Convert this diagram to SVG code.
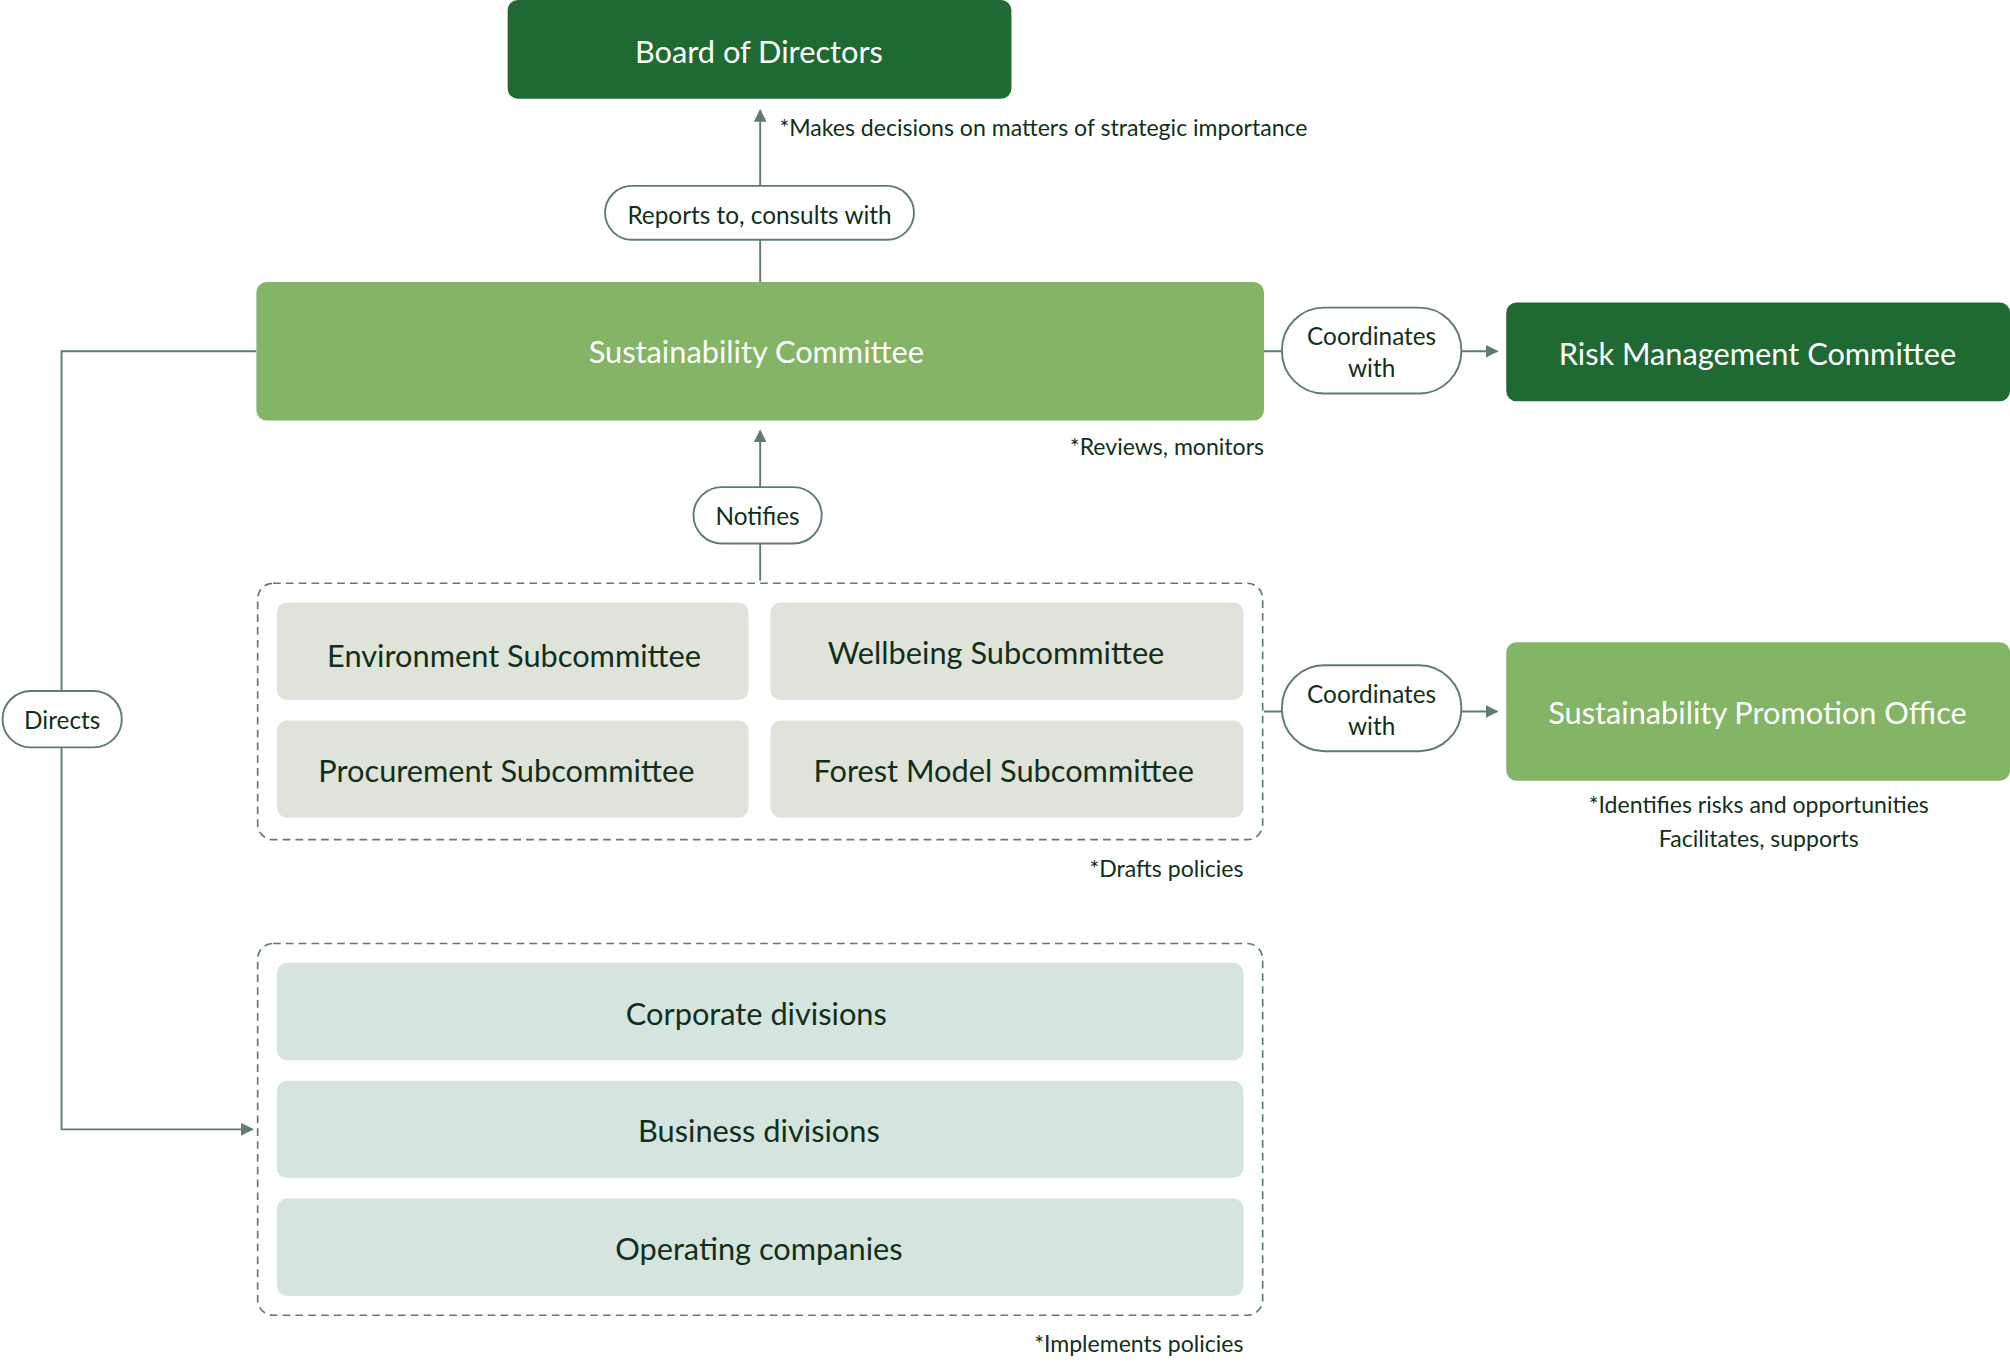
<svg xmlns="http://www.w3.org/2000/svg" width="2010" height="1362" viewBox="0 0 2010 1362">
<defs>
<style>
text{font-family:"Lato","Noto Sans",sans-serif;text-anchor:middle;dominant-baseline:central}
.w{fill:#fff;font-size:24px}
.d{fill:#10301a;font-size:24px}
.lbl{fill:#10301a;font-size:19px}
.note{fill:#10301a;font-size:18px;dominant-baseline:auto}
.pill{fill:#fff;stroke:#5f7d6d;stroke-width:1.5}
.ln{fill:none;stroke:#5f7d6d;stroke-width:1.5}
.dash{fill:none;stroke:#5f7d6d;stroke-width:1.3;stroke-dasharray:6 4}
.dk{fill:#1f6a33}.lt{fill:#84b466}.sub{fill:#dfe3d9}.div{fill:#d6e4df}
</style>
<marker id="ar" viewBox="0 0 10 10" refX="9" refY="5" markerWidth="10" markerHeight="10" markerUnits="userSpaceOnUse" orient="auto"><path d="M0,0L10,5L0,10z" fill="#5f7d6d"/></marker>
</defs>
<rect width="2010" height="1362" fill="#fff"/>
<g transform="scale(1.2819)">
<g id="connectors">
<path class="ln" d="M593,220V86" marker-end="url(#ar)"/>
<path class="ln" d="M986,274H1168" marker-end="url(#ar)"/>
<path class="ln" d="M593,453V336" marker-end="url(#ar)"/>
<path class="ln" d="M986,555H1168" marker-end="url(#ar)"/>
<path class="ln" d="M200,274H48V881H197" marker-end="url(#ar)"/>
<rect class="pill" x="472" y="145" width="241" height="42" rx="21"/><text class="lbl" x="592.5" y="167">Reports to, consults with</text>
<rect class="pill" x="1000" y="240" width="140" height="67" rx="33"/><text class="lbl" x="1070" y="262">Coordinates</text><text class="lbl" x="1070" y="287">with</text>
<rect class="pill" x="541" y="380" width="100" height="44" rx="22"/><text class="lbl" x="591" y="402">Notifies</text>
<rect class="pill" x="1000" y="519" width="140" height="67" rx="33"/><text class="lbl" x="1070" y="541">Coordinates</text><text class="lbl" x="1070" y="566">with</text>
<rect class="pill" x="2" y="539" width="93" height="44" rx="22"/><text class="lbl" x="48.5" y="561">Directs</text>
</g>
<g id="board"><rect class="dk" x="396" y="0" width="393" height="77" rx="8"/><text class="w" x="592" y="40">Board of Directors</text>
<text class="note" x="608" y="106" style="text-anchor:start">*Makes decisions on matters of strategic importance</text></g>
<g id="sc"><rect class="lt" x="200" y="220" width="786" height="108" rx="8"/><text class="w" x="590" y="274">Sustainability Committee</text>
<text class="note" x="986" y="355" style="text-anchor:end">*Reviews, monitors</text></g>
<g id="rmc"><rect class="dk" x="1175" y="236" width="393" height="77" rx="8"/><text class="w" x="1371" y="276">Risk Management Committee</text></g>
<g id="subs"><rect class="dash" x="201" y="455" width="784" height="200" rx="12"/>
<rect class="sub" x="216" y="470" width="368" height="76" rx="8"/><text class="d" x="401" y="511">Environment Subcommittee</text>
<rect class="sub" x="601" y="470" width="369" height="76" rx="8"/><text class="d" x="777" y="509">Wellbeing Subcommittee</text>
<rect class="sub" x="216" y="562" width="368" height="76" rx="8"/><text class="d" x="395" y="601">Procurement Subcommittee</text>
<rect class="sub" x="601" y="562" width="369" height="76" rx="8"/><text class="d" x="783" y="601">Forest Model Subcommittee</text>
<text class="note" x="970" y="684" style="text-anchor:end">*Drafts policies</text></g>
<g id="spo"><rect class="lt" x="1175" y="501" width="393" height="108" rx="8"/><text class="w" x="1371" y="556">Sustainability Promotion Office</text>
<text class="note" x="1372" y="634">*Identifies risks and opportunities</text><text class="note" x="1372" y="661">Facilitates, supports</text></g>
<g id="divs"><rect class="dash" x="201" y="736" width="784" height="290" rx="12"/>
<rect class="div" x="216" y="751" width="754" height="76" rx="8"/><text class="d" x="590" y="791">Corporate divisions</text>
<rect class="div" x="216" y="843" width="754" height="76" rx="8"/><text class="d" x="592" y="882">Business divisions</text>
<rect class="div" x="216" y="935" width="754" height="76" rx="8"/><text class="d" x="592" y="974">Operating companies</text>
<text class="note" x="970" y="1055" style="text-anchor:end">*Implements policies</text></g>
</g>
</svg>
